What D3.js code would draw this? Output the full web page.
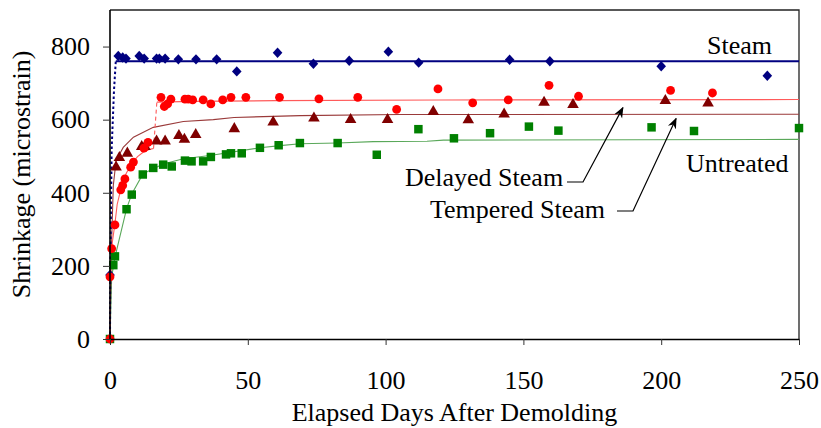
<!DOCTYPE html>
<html>
<head>
<meta charset="utf-8">
<script src="https://cdn.jsdelivr.net/npm/d3@7"></script>
<style>
  body { margin: 0; background: #fff; }
  svg { display: block; }
  text { font-family: "Liberation Serif", "Times New Roman", serif; fill: #000; }
</style>
</head>
<body>
<svg id="chart" width="821" height="428"></svg>
<script>
// Measured shrinkage (microstrain) against elapsed days after demolding
const steamDays = [0, 3.0, 4.6, 5.8, 10.6, 12.4, 16.9, 17.9, 20, 24.8, 31.2, 38.7, 46, 60.8, 73.8, 86.8, 101, 112, 145, 159.6, 200, 238.5];
const steamVals = [175, 774, 770, 767, 774, 767, 767, 767, 767, 765, 765, 765, 732, 783, 753, 761, 786, 756, 764, 760, 746, 720];

const delayedDays = [0, 0, 0.6, 1.8, 3.9, 4.6, 5.4, 7.5, 8.5, 12.3, 13.8, 18.5, 19.7, 20.9, 22.1, 27.2, 28.4, 30, 33.8, 36.6, 40.9, 43.9, 49.3, 61.5, 75.8, 89.9, 104, 119, 131.6, 144.5, 159.3, 170, 203.4, 218.6];
const delayedVals = [0, 170, 247, 312, 408, 420, 438, 470, 484, 522, 538, 661, 636, 643, 656, 656, 656, 654, 654, 643, 654, 661, 661, 661, 657, 661, 628, 684, 646, 654, 694, 664, 680, 673];

const temperedDays = [2.2, 3.4, 6.3, 11.5, 12.7, 16.9, 20, 25, 27, 31.1, 45.1, 59.2, 74, 87.3, 100.7, 117.3, 130, 143, 157.5, 168, 201.5, 217];
const temperedVals = [470, 496, 508, 526, 526, 541, 541, 556, 546, 559, 575, 593, 604, 600, 600, 622, 599, 615, 647, 641, 652, 645];

const untreatedDays = [0, 1.2, 1.8, 6, 7.9, 11.9, 15.7, 19.3, 22.4, 27.2, 29.6, 33.8, 36.6, 42.1, 43.9, 47.8, 54.4, 61.2, 68.9, 82.6, 96.8, 111.9, 124.8, 137.9, 152, 162.7, 196.5, 211.9, 250];
const untreatedVals = [0, 202, 226, 355, 395, 450, 468, 477, 472, 488, 486, 486, 498, 505, 508, 508, 523, 530, 536, 536, 504, 574, 549, 563, 581, 570, 579, 569, 577];

// Fitted shrinkage curves
const steamRiseDays = [0, 0.1, 0.6, 1.45, 2.1];
const steamRiseVals = [0, 175, 520, 680, 760];
const steamFitDays = [2.1, 250];
const steamFitVals = [760, 760];

const delayedEarlyDays = [0, 0.2, 0.8, 1.8, 2.6, 3.6, 4.8, 6, 8.5, 10, 12, 14, 15.8];
const delayedEarlyVals = [0, 170, 262, 316, 368, 400, 435, 455, 486, 499, 511, 518, 521];
const delayedJumpDays = [15.8, 17];
const delayedJumpVals = [521, 648];
const delayedLateDays = [17, 30, 60, 120, 250];
const delayedLateVals = [648, 650, 652, 654, 655];

const temperedFitDays = [0, 0.4, 1.2, 2.2, 4.8, 8.5, 15.7, 26.6, 37.5, 45, 69, 105, 250];
const temperedFitVals = [0, 220, 420, 488, 524, 552, 579, 595, 600, 606, 611, 614, 615];

const untreatedFitDays = [0, 0.6, 1.8, 6, 7.9, 12, 19.3, 26.6, 36.3, 54.4, 61.7, 69, 82.6, 95.5, 115, 121, 250];
const untreatedFitVals = [0, 170, 224, 356, 397, 452, 479, 493, 502, 523, 529, 534, 536, 540, 541, 544, 546];

const xTicks = [0, 50, 100, 150, 200, 250];
const yTicks = [0, 200, 400, 600, 800];

const svg = d3.select("#chart");
const x = d3.scaleLinear().domain([0, 250]).range([110, 799]);
const y = d3.scaleLinear().domain([0, 900]).range([339, 10]);

const zip = (xs, ys) => xs.map((d, i) => [d, ys[i]]);
const line = d3.line().x(d => x(d[0])).y(d => y(d[1]));

// plot frame (top and right edges)
svg.append("path")
  .attr("d", `M${x(0)},${y(900)}H${x(250)}V${y(0)}`)
  .attr("fill", "none").attr("stroke", "#222").attr("stroke-width", 1.3);

// fitted curves
function curve(pts, color, width, dash) {
  svg.append("path").datum(pts)
    .attr("d", line)
    .attr("fill", "none")
    .attr("stroke", color)
    .attr("stroke-width", width)
    .attr("stroke-dasharray", dash || null);
}
curve(zip(untreatedFitDays, untreatedFitVals), "#5aa85a", 1.1);
curve(zip(temperedFitDays, temperedFitVals), "#9a3a3a", 1.1);
curve(zip(delayedEarlyDays, delayedEarlyVals), "#ff5a5a", 1.1);
curve(zip(delayedJumpDays, delayedJumpVals), "#ff5a5a", 1.1, "4,3");
curve(zip(delayedLateDays, delayedLateVals), "#ff5a5a", 1.1);
curve(zip(steamRiseDays, steamRiseVals), "#000080", 2, "2.5,2.5");
curve(zip(steamFitDays, steamFitVals), "#000080", 2);

// markers
const symSquare = d3.symbol().type(d3.symbolSquare).size(72);
const symTriangle = d3.symbol().type(d3.symbolTriangle).size(58);
const diamondPath = "M0,-5.2L4.8,0L0,5.2L-4.8,0Z";

function markers(days, vals, sym, color, cls) {
  svg.append("g").attr("class", cls).selectAll("path")
    .data(zip(days, vals)).join("path")
    .attr("transform", d => `translate(${x(d[0])},${y(d[1])})`)
    .attr("d", sym)
    .attr("fill", color);
}
markers(untreatedDays, untreatedVals, symSquare, "#008000", "untreated");
markers(temperedDays, temperedVals, symTriangle, "#800000", "tempered");
markers(steamDays, steamVals, diamondPath, "#000080", "steam");
svg.append("g").attr("class", "delayed").selectAll("circle")
  .data(zip(delayedDays, delayedVals)).join("circle")
  .attr("cx", d => x(d[0])).attr("cy", d => y(d[1]))
  .attr("r", 4.4).attr("fill", "#ff0000");

// axes
const yAxis = svg.append("g").attr("transform", `translate(${x(0)},0)`)
  .call(d3.axisLeft(y).tickValues(yTicks).tickSize(7).tickPadding(13).tickSizeOuter(0));
const xAxis = svg.append("g").attr("transform", `translate(0,${y(0)})`)
  .call(d3.axisBottom(x).tickValues(xTicks).tickSize(6).tickPadding(26).tickSizeOuter(0));
[yAxis, xAxis].forEach(g => {
  g.select(".domain").attr("stroke", "#000").attr("stroke-width", 1.6);
  g.selectAll(".tick line").attr("stroke", "#333").attr("stroke-width", 1);
  g.selectAll(".tick text").attr("font-size", 26).attr("font-family", "Liberation Serif").attr("fill", "#000");
});
// stretch the left axis to the top of the frame
yAxis.select(".domain").attr("d", `M0,${y(900)}V${y(0)}`);

// axis titles
svg.append("text")
  .attr("x", (x(0) + x(250)) / 2).attr("y", 421)
  .attr("text-anchor", "middle").attr("font-size", 26)
  .text("Elapsed Days After Demolding");
svg.append("text")
  .attr("transform", `translate(30,${(y(0) + y(900)) / 2}) rotate(-90)`)
  .attr("text-anchor", "middle").attr("font-size", 26)
  .text("Shrinkage (microstrain)");

// series labels
svg.append("text").attr("x", 707).attr("y", 54).attr("font-size", 26).text("Steam");
svg.append("text").attr("x", 686).attr("y", 172).attr("font-size", 26).text("Untreated");
svg.append("text").attr("x", 405).attr("y", 186).attr("font-size", 26).text("Delayed Steam");
svg.append("text").attr("x", 430).attr("y", 218).attr("font-size", 26).text("Tempered Steam");

// leader arrows from labels to curves
svg.append("defs").append("marker")
  .attr("id", "arrow").attr("viewBox", "0 0 10 10")
  .attr("refX", 9).attr("refY", 5)
  .attr("markerWidth", 11).attr("markerHeight", 11)
  .attr("markerUnits", "userSpaceOnUse")
  .attr("orient", "auto")
  .append("path").attr("d", "M0,1 L10,5 L0,9 L3,5 Z").attr("fill", "#000");

const leaders = [
  { from: [567, 182], elbow: [583, 182], tipDay: 186.1, tipVal: 633 },
  { from: [617, 211], elbow: [633, 211], tipDay: 205.4, tipVal: 603 }
];
leaders.forEach(l => {
  svg.append("path")
    .attr("d", `M${l.from[0]},${l.from[1]}L${l.elbow[0]},${l.elbow[1]}L${x(l.tipDay)},${y(l.tipVal)}`)
    .attr("fill", "none").attr("stroke", "#000").attr("stroke-width", 1.2)
    .attr("marker-end", "url(#arrow)");
});
</script>
</body>
</html>
